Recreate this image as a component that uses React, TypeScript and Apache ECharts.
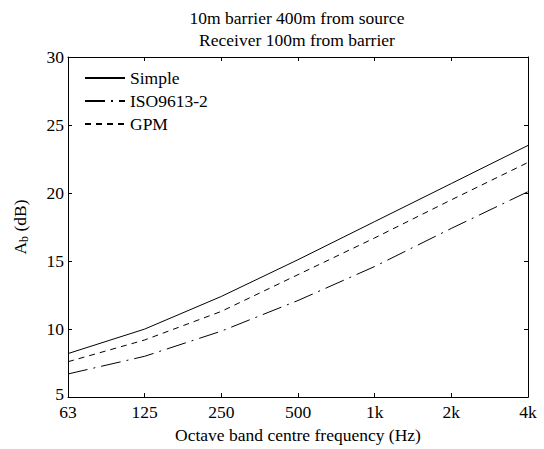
import React, { useEffect, useRef } from "react";
import * as echarts from "echarts";

const categories = ["63", "125", "250", "500", "1k", "2k", "4k"];
const simple = [8.2, 10.0, 12.4, 15.1, 17.9, 20.7, 23.5];
const iso = [6.7, 8.0, 9.85, 12.1, 14.6, 17.4, 20.1];
const gpm = [7.6, 9.2, 11.3, 14.0, 16.7, 19.5, 22.25];
const yTicks = { min: 5, max: 30, interval: 5 };

const FONT = "Liberation Serif";
const FS = 17.5;

export default function App() {
  const ref = useRef<HTMLDivElement>(null);
  useEffect(() => {
    document.body.style.margin = "0";
    const chart = echarts.init(ref.current!, null, { renderer: "svg" });
    const axisCommon = {
      axisLine: { show: true, lineStyle: { color: "#000", width: 1 } },
      axisTick: { show: true, inside: true, length: 4, lineStyle: { color: "#000" } },
      splitLine: { show: false },
    };
    chart.setOption({
      animation: false,
      backgroundColor: "#fff",
      textStyle: { fontFamily: FONT },
      title: {
        text: "10m barrier 400m from source\nReceiver 100m from barrier",
        left: 297,
        top: 7,
        padding: 0,
        textAlign: "center",
        textStyle: { fontFamily: FONT, fontSize: FS, fontWeight: "normal", color: "#000", lineHeight: 22 },
      },
      legend: {
        left: 84,
        top: 69,
        padding: 0,
        orient: "vertical",
        itemWidth: 40,
        itemHeight: 14,
        itemGap: 5,
        itemStyle: { opacity: 0 },
        textStyle: { fontFamily: FONT, fontSize: FS, color: "#000", lineHeight: 18 },
        data: ["Simple", "ISO9613-2", "GPM"],
      },
      grid: { left: 68, right: 16, top: 57, bottom: 44.7 },
      xAxis: [
        {
          type: "category",
          data: categories,
          boundaryGap: false,
          ...axisCommon,
          axisLabel: { fontFamily: FONT, fontSize: FS, color: "#000", margin: 6 },
          name: "Octave band centre frequency (Hz)",
          nameLocation: "middle",
          nameGap: 22,
          nameTextStyle: { fontFamily: FONT, fontSize: FS, color: "#000" },
        },
        {
          type: "category",
          data: categories,
          boundaryGap: false,
          position: "top",
          ...axisCommon,
          axisLabel: { show: false },
        },
      ],
      yAxis: [
        {
          type: "value",
          min: yTicks.min,
          max: yTicks.max,
          interval: yTicks.interval,
          ...axisCommon,
          axisLabel: {
            fontFamily: FONT,
            fontSize: FS,
            color: "#000",
            margin: 4,
            formatter: (v: number) => (v === yTicks.min ? "{lo|" + v + "}" : String(v)),
            rich: { lo: { fontFamily: FONT, fontSize: FS, color: "#000", padding: [0, 0, 7, 0] } },
          },
          name: "{a|A}{b|b}{a| (dB)}",
          nameLocation: "middle",
          nameGap: 38,
          nameRotate: 90,
          nameTextStyle: {
            rich: {
              a: { fontFamily: FONT, fontSize: FS, color: "#000" },
              b: { fontFamily: FONT, fontSize: 12, color: "#000", verticalAlign: "bottom", padding: [9, 0, 0, 0] },
            },
          },
        },
        {
          type: "value",
          min: yTicks.min,
          max: yTicks.max,
          interval: yTicks.interval,
          position: "right",
          ...axisCommon,
          axisLabel: { show: false },
        },
      ],
      series: [
        {
          name: "Simple",
          type: "line",
          data: simple,
          showSymbol: false,
          symbol: "none",
          lineStyle: { color: "#000", width: 1, type: "solid" },
          itemStyle: { color: "#000" },
        },
        {
          name: "ISO9613-2",
          type: "line",
          data: iso,
          showSymbol: false,
          symbol: "none",
          lineStyle: { color: "#000", width: 1, type: [20, 6, 2, 6] },
          itemStyle: { color: "#000" },
        },
        {
          name: "GPM",
          type: "line",
          data: gpm,
          showSymbol: false,
          symbol: "none",
          lineStyle: { color: "#000", width: 1, type: [6, 5] },
          itemStyle: { color: "#000" },
        },
      ],
    });
    return () => chart.dispose();
  }, []);
  return <div ref={ref} style={{ width: 544, height: 449 }} />;
}
